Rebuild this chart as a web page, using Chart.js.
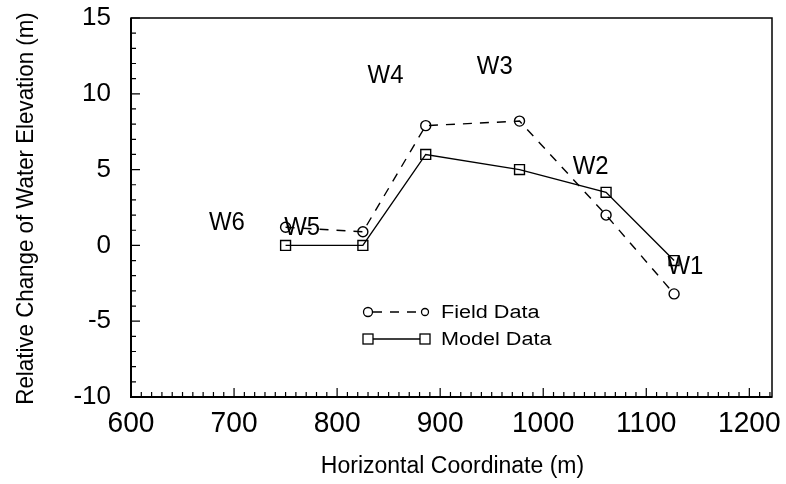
<!DOCTYPE html>
<html>
<head>
<meta charset="utf-8">
<script src="https://cdn.jsdelivr.net/npm/chart.js@4/dist/chart.umd.min.js"></script>
<style>
html,body{margin:0;padding:0;background:#fff;}
#wrap{width:786px;height:484px;}
</style>
</head>
<body>
<div id="wrap"><canvas id="c" width="786" height="484"></canvas></div>
<script>
// ---- data ----
const xPositions = [750, 825, 886, 977, 1061, 1127];
const fieldData  = [1.2, 0.9, 7.9, 8.2, 2.0, -3.2];
const modelData  = [0, 0, 6.0, 5.0, 3.5, -1.0];
const wellNames  = ['W6', 'W5', 'W4', 'W3', 'W2', 'W1'];
const wellLabelX = [693, 766, 847, 953, 1046, 1138];
const wellLabelY = [1.5, 1.15, 11.2, 11.75, 5.15, -1.4];
const xTickValues = [600, 700, 800, 900, 1000, 1100, 1200];
const yTickValues = [-10, -5, 0, 5, 10, 15];
const seriesNames = ['Field Data', 'Model Data'];
const xTitle = 'Horizontal Coordinate (m)';
const yTitle = 'Relative Change of Water Elevation (m)';

const FONT = "'Liberation Sans', Arial, Helvetica, sans-serif";

const fieldPts = xPositions.map((x, i) => ({x: x, y: fieldData[i]}));
const modelPts = xPositions.map((x, i) => ({x: x, y: modelData[i]}));

function drawText(ctx, text, x, y, size, sx, align, baseline, rot) {
  ctx.save();
  ctx.translate(x, y);
  if (rot) ctx.rotate(rot);
  ctx.scale(sx, 1);
  ctx.font = size + 'px ' + FONT;
  ctx.textAlign = align;
  ctx.textBaseline = baseline;
  ctx.fillStyle = '#000';
  ctx.fillText(text, 0, 0);
  ctx.restore();
}

const framePlugin = {
  id: 'frame',
  afterDraw(chart) {
    const ctx = chart.ctx;
    const a = chart.chartArea;
    const xs = chart.scales.x, ys = chart.scales.y;
    ctx.save();
    ctx.strokeStyle = '#000';
    ctx.lineWidth = 1.5;
    ctx.strokeRect(a.left, a.top, a.right - a.left, a.bottom - a.top);
    ctx.lineWidth = 2;
    ctx.beginPath();
    ctx.moveTo(a.left, a.top); ctx.lineTo(a.left, a.bottom); ctx.lineTo(a.right, a.bottom);
    ctx.stroke();
    // inward ticks
    ctx.lineWidth = 1.2;
    ctx.beginPath();
    for (let v = xs.min; v <= xs.max; v += 10) {
      const px = xs.getPixelForValue(v);
      const len = (Math.round(v) % 100 === 0) ? 9 : 5;
      ctx.moveTo(px, a.bottom); ctx.lineTo(px, a.bottom - len);
    }
    for (let v = ys.min; v <= ys.max; v += 1) {
      const py = ys.getPixelForValue(v);
      const len = (Math.round(v) % 5 === 0) ? 9 : 5;
      ctx.moveTo(a.left, py); ctx.lineTo(a.left + len, py);
    }
    ctx.stroke();
    ctx.restore();

    // tick labels
    xTickValues.forEach(v => drawText(ctx, String(v), xs.getPixelForValue(v), a.bottom + 27, 29, 0.97, 'center', 'middle'));
    yTickValues.forEach(v => drawText(ctx, String(v), a.left - 20, ys.getPixelForValue(v), 26, 1, 'right', 'middle'));

    // axis titles
    drawText(ctx, xTitle, (a.left + a.right) / 2 + 1, a.bottom + 70, 23, 1, 'center', 'middle');
    drawText(ctx, yTitle, 33, (a.top + a.bottom) / 2 + 1, 24, 0.93, 'center', 'alphabetic', -Math.PI / 2);

    // well labels
    wellNames.forEach((n, i) => {
      drawText(ctx, n, xs.getPixelForValue(wellLabelX[i]), ys.getPixelForValue(wellLabelY[i]), 26, 0.92, 'center', 'middle');
    });

    // legend
    ctx.save();
    ctx.strokeStyle = '#000';
    const lx0 = a.left + 237, lx1 = a.left + 294, tx = a.left + 310;
    const ly = [a.top + 294, a.top + 321];
    ctx.lineWidth = 1.3;
    ctx.setLineDash([9, 8]);
    ctx.beginPath(); ctx.moveTo(lx0 + 5, ly[0]); ctx.lineTo(lx1 - 4, ly[0]); ctx.stroke();
    ctx.setLineDash([]);
    ctx.beginPath(); ctx.arc(lx0, ly[0], 4.5, 0, Math.PI * 2); ctx.stroke();
    ctx.beginPath(); ctx.arc(lx1, ly[0], 3.5, 0, Math.PI * 2); ctx.stroke();
    ctx.beginPath(); ctx.moveTo(lx0 + 5, ly[1]); ctx.lineTo(lx1 - 5, ly[1]); ctx.stroke();
    ctx.strokeRect(lx0 - 5, ly[1] - 5, 10, 10);
    ctx.strokeRect(lx1 - 5, ly[1] - 5, 10, 10);
    ctx.restore();
    drawText(ctx, seriesNames[0], tx, ly[0] + 1, 18, 1.2, 'left', 'middle');
    drawText(ctx, seriesNames[1], tx, ly[1] + 1, 18, 1.2, 'left', 'middle');
  }
};

new Chart(document.getElementById('c'), {
  type: 'scatter',
  data: {
    datasets: [
      {
        label: seriesNames[0],
        data: fieldPts,
        showLine: true,
        borderColor: '#000',
        backgroundColor: 'rgba(0,0,0,0)',
        borderWidth: 1.4,
        borderDash: [9, 8],
        pointStyle: 'circle',
        pointRadius: 5,
        pointBorderWidth: 1.4,
        pointBackgroundColor: 'rgba(0,0,0,0)',
        pointBorderColor: '#000'
      },
      {
        label: seriesNames[1],
        data: modelPts,
        showLine: true,
        borderColor: '#000',
        backgroundColor: 'rgba(0,0,0,0)',
        borderWidth: 1.4,
        pointStyle: 'rect',
        pointRadius: 7,
        pointBorderWidth: 1.4,
        pointBackgroundColor: 'rgba(0,0,0,0)',
        pointBorderColor: '#000'
      }
    ]
  },
  options: {
    responsive: false,
    animation: false,
    layout: { padding: { left: 0, right: 14, top: 18, bottom: 0 } },
    plugins: { legend: { display: false }, tooltip: { enabled: false } },
    scales: {
      x: {
        type: 'linear',
        min: 600,
        max: 1222,
        afterBuildTicks(s) { s.ticks = xTickValues.map(v => ({value: v})); },
        afterFit(s) { s.height = 87; },
        grid: { display: false, drawTicks: false },
        border: { display: false },
        ticks: { display: false },
        title: { display: false }
      },
      y: {
        type: 'linear',
        min: -10,
        max: 15,
        afterBuildTicks(s) { s.ticks = yTickValues.map(v => ({value: v})); },
        afterFit(s) { s.width = 131; },
        grid: { display: false, drawTicks: false },
        border: { display: false },
        ticks: { display: false },
        title: { display: false }
      }
    }
  },
  plugins: [framePlugin]
});
</script>
</body>
</html>
